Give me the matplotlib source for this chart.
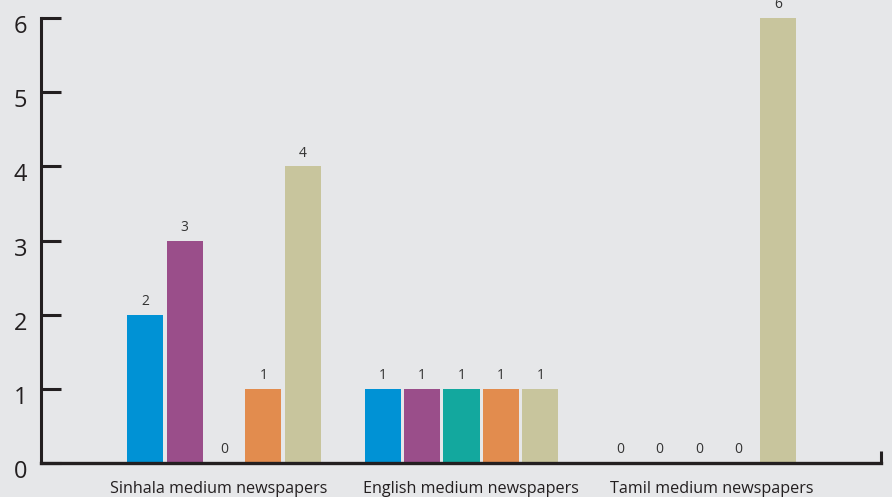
import numpy as np
import matplotlib
matplotlib.use('Agg')
import matplotlib.pyplot as plt
import matplotlib.transforms as mtransforms

# chart data
groups = ['Sinhala medium newspapers', 'English medium newspapers', 'Tamil medium newspapers']
series_colors = ['#0092d5', '#9a4e8a', '#13a89e', '#e28c4e', '#c8c59d']
values = [
    [2, 1, 0],   # blue
    [3, 1, 0],   # purple
    [0, 1, 0],   # teal
    [1, 1, 0],   # orange
    [4, 1, 6],   # khaki
]
y_ticks = [0, 1, 2, 3, 4, 5, 6]

plt.rcParams['font.family'] = ['Open Sans', 'DejaVu Sans']
bg = '#e6e7e9'
ink = '#231f20'

fig = plt.figure(figsize=(8.92, 4.97), dpi=100, facecolor=bg)
ax = fig.add_axes([41 / 892, 34 / 497, 840 / 892, 445 / 497], facecolor=bg)

x = np.arange(len(groups))
step = 0.166
width = 0.152
for j, (vals, col) in enumerate(zip(values, series_colors)):
    pos = x + (j - 2) * step
    bars = ax.bar(pos, vals, width=width, color=col, zorder=2, clip_on=False)
    for b, v in zip(bars, vals):
        ax.annotate(str(v), (b.get_x() + b.get_width() / 2, v), xytext=(0, 4),
                    textcoords='offset points', ha='center', va='bottom',
                    fontsize=10, color='#333333', annotation_clip=False)

ax.set_xlim(-0.7705, 2.766)
ax.set_ylim(0, 6)

# spines
for s in ['top', 'right']:
    ax.spines[s].set_visible(False)
ax.spines['left'].set_linewidth(2.2)
ax.spines['left'].set_color(ink)
ax.spines['bottom'].set_linewidth(2.4)
ax.spines['bottom'].set_color(ink)
ax.spines['bottom'].set_zorder(3)

ax.set_yticks(y_ticks)
ax.tick_params(axis='y', direction='in', length=14.5, width=2.2, color=ink,
               labelsize=17, labelcolor=ink, pad=10)
off = mtransforms.ScaledTranslation(0, -6 / 100, fig.dpi_scale_trans)
for lab in ax.get_yticklabels():
    lab.set_transform(lab.get_transform() + off)

ax.set_xticks(x)
ax.set_xticklabels(groups, fontsize=11.6, color=ink)
ax.tick_params(axis='x', length=0, pad=13)
# the category labels sit a little off the group centres in the original
for lab, dx in zip(ax.get_xticklabels(), [-5, 9, 13]):
    lab.set_transform(lab.get_transform() +
                      mtransforms.ScaledTranslation(dx / 100, 0, fig.dpi_scale_trans))

# small end tick at right of the x axis
ax.plot([1, 1], [0, 0.028], transform=ax.transAxes, color=ink, lw=2.2,
        clip_on=False, solid_capstyle='butt')

fig.savefig('out.png', dpi=100, facecolor=bg)
